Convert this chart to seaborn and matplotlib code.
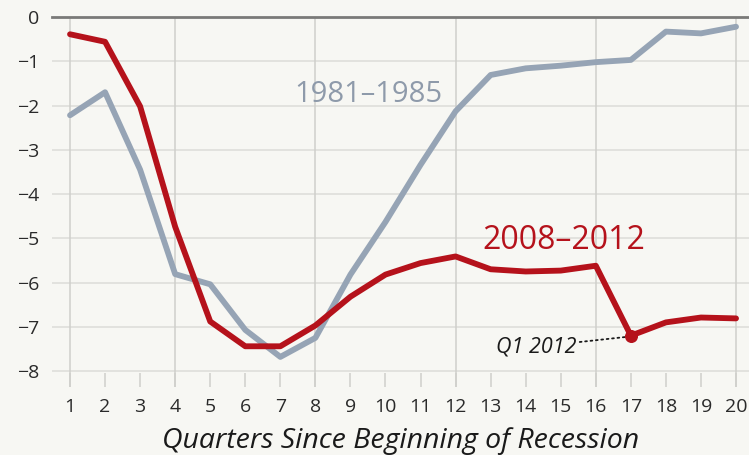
import pandas as pd
import matplotlib.pyplot as plt
import seaborn as sns

quarters = list(range(1, 21))
recession_1981 = [-2.22, -1.70, -3.45, -5.81, -6.04, -7.07, -7.68, -7.25, -5.82, -4.63,
                  -3.34, -2.13, -1.31, -1.16, -1.10, -1.02, -0.97, -0.33, -0.37, -0.22]
recession_2008 = [-0.39, -0.56, -2.02, -4.74, -6.88, -7.44, -7.44, -6.97, -6.32, -5.82,
                  -5.56, -5.41, -5.70, -5.75, -5.73, -5.62, -7.20, -6.90, -6.79, -6.81]
series_labels = ['1981–1985', '2008–2012']
highlight_quarter = 17

gray = '#96a4b5'
red = '#b5121b'
bg = '#f7f7f3'

sns.set_theme(style='white')
plt.rcParams['font.family'] = ['Open Sans', 'DejaVu Sans']

df = pd.DataFrame({
    'quarter': quarters * 2,
    'value': recession_1981 + recession_2008,
    'period': [series_labels[0]] * 20 + [series_labels[1]] * 20,
})

fig = plt.figure(figsize=(7.49, 4.55), dpi=100, facecolor=bg)
ax = fig.add_axes([52 / 749, 1 - 387 / 455, 1 - 52 / 749, (387 - 17) / 455])
ax.set_facecolor(bg)

# grid first so lines sit on top
for y in range(-8, 0):
    ax.axhline(y, color='#dcdcd8', lw=1.1, zorder=0)
for x in [1, 4, 8, 12, 16, 20]:
    ax.axvline(x, color='#cfcfcb', lw=1.1, zorder=0)

sns.lineplot(data=df, x='quarter', y='value', hue='period',
             palette={series_labels[0]: gray, series_labels[1]: red},
             linewidth=4.2, legend=False, ax=ax, zorder=3)

hv = recession_2008[highlight_quarter - 1]
ax.scatter([highlight_quarter], [hv], s=70, color=red, zorder=4)
ax.annotate('Q1 2012', xy=(highlight_quarter - 0.15, hv - 0.03),
            xytext=(14.3, -7.45), fontsize=15.5, style='italic', color='#1a1a1a',
            ha='center', va='center',
            arrowprops=dict(arrowstyle='-', linestyle=(0, (1, 2)), color='#1a1a1a',
                            lw=1.3, shrinkA=0, shrinkB=0))

ax.text(9.5, -1.75, series_labels[0], color='#8e9aaa', fontsize=21,
        ha='center', va='center')
ax.text(15.1, -5.05, series_labels[1], color=red, fontsize=23,
        ha='center', va='center')

ax.set_xlim(0.486, 20.37)
ax.set_ylim(-8.36, 0)
ax.set_xticks(quarters)
ax.set_yticks(range(-8, 1))
ax.tick_params(axis='x', direction='in', length=10, width=1.1, color='#cfcfcb',
               labelsize=14, labelcolor='#2a2a2a', pad=8, bottom=True)
ax.tick_params(axis='y', length=0, labelsize=14, labelcolor='#2a2a2a', pad=9)

for side in ['left', 'right', 'bottom']:
    ax.spines[side].set_visible(False)
ax.spines['top'].set_color('#7a7a78')
ax.spines['top'].set_linewidth(2)
ax.spines['top'].set_zorder(2)

ax.set_xlabel('Quarters Since Beginning of Recession', fontsize=20.5,
              style='italic', color='#1a1a1a', labelpad=8)
ax.set_ylabel('')

plt.savefig('out.png', dpi=100, facecolor=bg)
